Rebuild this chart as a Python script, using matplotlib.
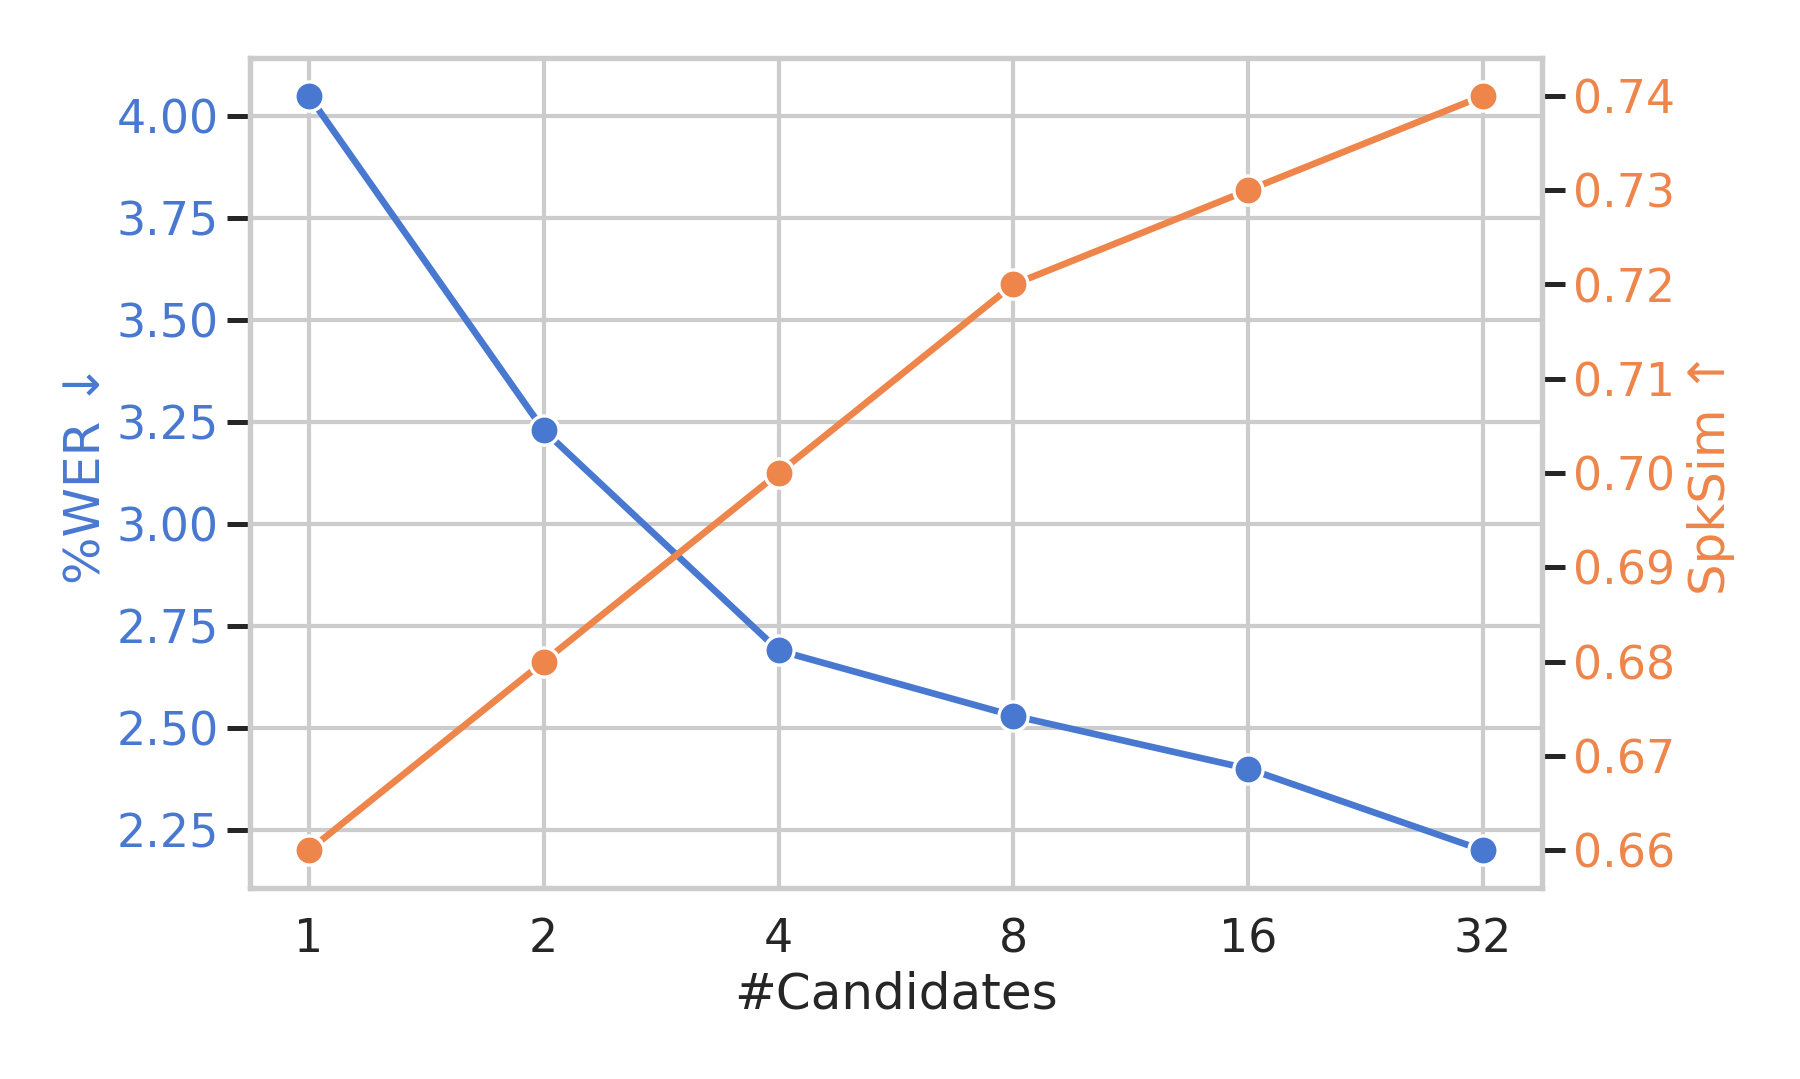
import numpy as np
import matplotlib
matplotlib.use("Agg")
import matplotlib.pyplot as plt
import seaborn as sns

sns.set_theme(style="whitegrid")
plt.rcParams['font.family'] = ['DejaVu Sans']

# data
candidates = ["1", "2", "4", "8", "16", "32"]
wer = [4.05, 3.23, 2.69, 2.53, 2.40, 2.20]
spksim = [0.66, 0.68, 0.70, 0.72, 0.73, 0.74]

blue = "#4878d0"
orange = "#ee854a"

fig = plt.figure(figsize=(6, 3.597), dpi=300)
ax = fig.add_axes([0.139, 0.177, 0.7175, 0.769])
x = np.arange(len(candidates))

ax.plot(x, wer, color=blue, lw=1.6, marker="o", ms=7,
        markeredgecolor="white", markeredgewidth=0.8, zorder=3)
ax.set_xticks(x)
ax.set_xticklabels(candidates)
ax.set_yticks([2.25, 2.50, 2.75, 3.00, 3.25, 3.50, 3.75, 4.00])
ax.yaxis.set_major_formatter(matplotlib.ticker.FormatStrFormatter("%.2f"))
ax.set_xlabel("#Candidates", fontsize=12, color="#262626", labelpad=2)
ax.set_ylabel("%WER ↓", fontsize=12, color=blue, labelpad=1.5)
ax.tick_params(axis="y", colors=blue, labelsize=11, left=True, length=5.5,
               width=1.2, color="#262626", pad=2)
ax.tick_params(axis="x", labelsize=11, labelcolor="#262626", bottom=False,
               length=0, pad=7)
for sp in ax.spines.values():
    sp.set_color("#cccccc")
    sp.set_linewidth(1.25)

ax2 = ax.twinx()
ax2.plot(x, spksim, color=orange, lw=1.6, marker="o", ms=7,
         markeredgecolor="white", markeredgewidth=0.8, zorder=3)
ax2.grid(False)
ax2.set_yticks([0.66, 0.67, 0.68, 0.69, 0.70, 0.71, 0.72, 0.73, 0.74])
ax2.yaxis.set_major_formatter(matplotlib.ticker.FormatStrFormatter("%.2f"))
ax2.set_ylabel("SpkSim ↑", fontsize=12, color=orange, labelpad=2.8)
ax2.tick_params(axis="y", colors=orange, labelsize=11, right=True, length=5.5,
                width=1.2, color="#262626", pad=2)
for sp in ax2.spines.values():
    sp.set_color("#cccccc")
    sp.set_linewidth(1.25)

fig.savefig("out.png", dpi=300)
